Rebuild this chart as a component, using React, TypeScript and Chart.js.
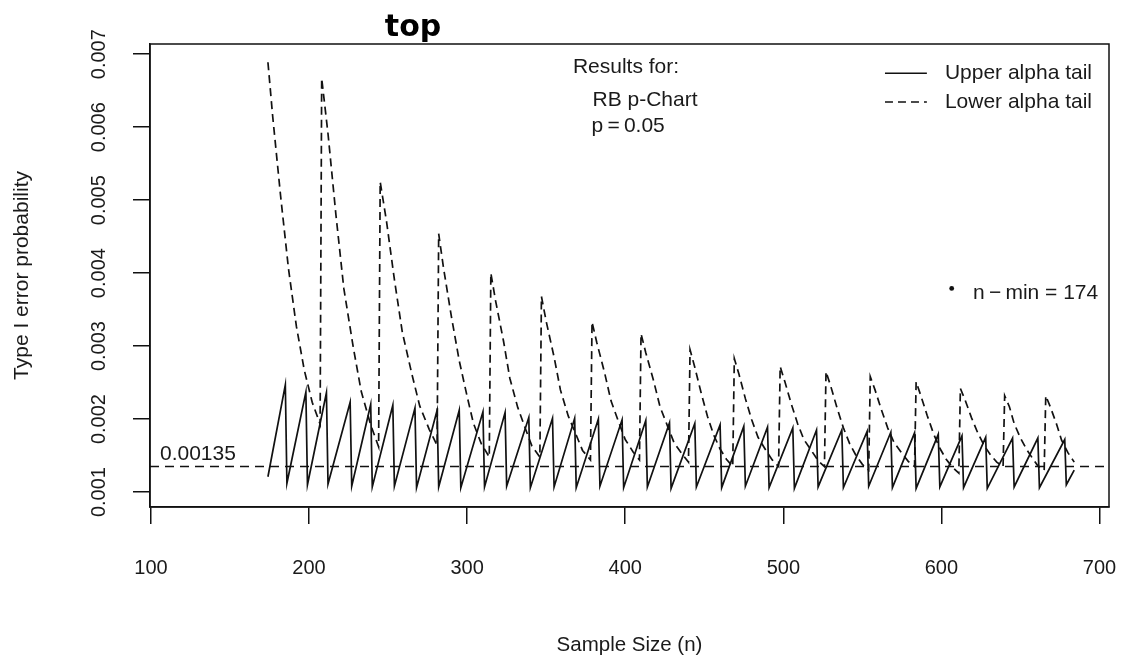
import React, { useEffect, useRef } from "react";
import { Chart, registerables } from "chart.js";

Chart.register(...registerables);

const INK = "#111111";
const TEXT = "#1a1a1a";
const FONT = "'Liberation Sans', Arial, Helvetica, sans-serif";

// Axis limits and ticks
const xLimits = [99.4, 706];
const yLimits = [0.000795, 0.00714];
const xTicks = [100, 200, 300, 400, 500, 600, 700];
const yTicks = [0.001, 0.002, 0.003, 0.004, 0.005, 0.006, 0.007];

const seriesNames = ["Upper alpha tail", "Lower alpha tail"];
const refLevel = 0.00135;
const nMin = 174;
const chartType = "RB p-Chart";
const pValue = "0.05";

// Upper alpha tail (solid): sample size n and probability
const upperN = [
  174, 185, 186, 198, 199, 211, 212, 226, 227, 239, 240, 253, 254, 267, 268, 281, 282,
  295, 296, 310, 311, 324, 325, 339, 340, 354, 355, 368, 369, 383, 384, 398, 399, 413,
  414, 428, 429, 444, 445, 460, 461, 475, 476, 490, 491, 506, 507, 521, 522, 537, 538,
  553, 554, 568, 569, 583, 584, 598, 599, 613, 614, 628, 629, 645, 646, 661, 662, 678,
  679, 684,
];
const upperP = [
  0.00121, 0.00247, 0.00112, 0.00237, 0.0011, 0.00236, 0.00111, 0.00223, 0.00108,
  0.0022, 0.00107, 0.00219, 0.00108, 0.00215, 0.00106, 0.00212, 0.00107, 0.00212,
  0.00106, 0.0021, 0.00107, 0.00209, 0.00108, 0.00202, 0.00106, 0.00201, 0.00107,
  0.00201, 0.00106, 0.002, 0.00108, 0.00199, 0.00106, 0.00198, 0.00107, 0.00195,
  0.00105, 0.00194, 0.00107, 0.00192, 0.00106, 0.0019, 0.00108, 0.00189, 0.00106,
  0.00188, 0.00105, 0.00185, 0.00107, 0.00185, 0.00106, 0.00183, 0.00108, 0.00182,
  0.00106, 0.00181, 0.00105, 0.00179, 0.00107, 0.00177, 0.00106, 0.00175, 0.00105,
  0.00174, 0.00107, 0.00174, 0.00106, 0.00172, 0.0011, 0.0013,
];

// Lower alpha tail (dashed): sample size n and probability
const lowerN = [
  174, 177, 182, 187, 192, 197, 202, 207,
  208, 212, 217, 222, 228, 233, 239, 244,
  245, 249, 254, 259, 265, 270, 276, 281,
  282, 285, 290, 295, 300, 304, 309, 314,
  315, 318, 323, 327, 332, 337, 341, 346,
  347, 350, 355, 359, 364, 369, 373, 378,
  379, 382, 387, 391, 396, 400, 405, 409,
  410, 413, 418, 422, 427, 431, 436, 440,
  441, 444, 448, 452, 456, 460, 464, 468,
  469, 472, 476, 480, 484, 489, 493, 497,
  498, 501, 505, 509, 513, 518, 522, 526,
  527, 530, 534, 538, 542, 546, 550, 554,
  555, 558, 562, 566, 570, 575, 579, 583,
  584, 587, 591, 595, 599, 603, 607, 611,
  612, 615, 619, 623, 627, 631, 635, 639,
  640, 643, 646, 650, 654, 658, 661, 665,
  666, 669, 673, 676, 680, 684,
];
const lowerP = [
  0.00689, 0.00615, 0.00506, 0.00406, 0.00327, 0.00267, 0.00223, 0.00193,
  0.00667, 0.00591, 0.0048, 0.00379, 0.00298, 0.00238, 0.00192, 0.00162,
  0.00525, 0.00471, 0.00391, 0.00319, 0.00262, 0.00218, 0.00186, 0.00164,
  0.00454, 0.00408, 0.00341, 0.0028, 0.00231, 0.00194, 0.00166, 0.00148,
  0.004, 0.00362, 0.00307, 0.00256, 0.00216, 0.00186, 0.00163, 0.00148,
  0.00368, 0.00334, 0.00285, 0.0024, 0.00204, 0.00178, 0.00157, 0.00144,
  0.00333, 0.00305, 0.00263, 0.00225, 0.00195, 0.00172, 0.00155, 0.00144,
  0.00317, 0.00291, 0.00252, 0.00217, 0.00189, 0.00167, 0.00152, 0.00141,
  0.00295, 0.00271, 0.00236, 0.00204, 0.00178, 0.00159, 0.00145, 0.00135,
  0.00283, 0.00261, 0.00228, 0.00199, 0.00175, 0.00157, 0.00144, 0.00135,
  0.00272, 0.00251, 0.00221, 0.00194, 0.00172, 0.00156, 0.00143, 0.00135,
  0.00265, 0.00245, 0.00215, 0.00188, 0.00166, 0.0015, 0.00138, 0.0013,
  0.00258, 0.0024, 0.00213, 0.00188, 0.00168, 0.00153, 0.00142, 0.00135,
  0.00251, 0.00232, 0.00205, 0.0018, 0.0016, 0.00145, 0.00134, 0.00126,
  0.00242, 0.00226, 0.00202, 0.00181, 0.00164, 0.00151, 0.00141, 0.00135,
  0.00232, 0.00217, 0.00194, 0.00174, 0.00158, 0.00145, 0.00136, 0.0013,
  0.00232, 0.00216, 0.00192, 0.00171, 0.00154, 0.00141,
];

const toPoints = (xs: number[], ys: number[]) => {
  const n = Math.min(xs.length, ys.length);
  const out: { x: number; y: number }[] = [];
  for (let i = 0; i < n; i++) out.push({ x: xs[i], y: ys[i] });
  return out;
};

const DASH = [8, 5];
const LW = 1.7;

const annotationPlugin = {
  id: "rAnnotations",
  afterDraw(chart: any) {
    const { ctx, chartArea: a, scales } = chart;
    const xs = scales.x;
    const ys = scales.y;
    const px = (v: number) => xs.getPixelForValue(v);
    const py = (v: number) => ys.getPixelForValue(v);
    ctx.save();
    // full box around plot region
    ctx.strokeStyle = INK;
    ctx.lineWidth = 1.5;
    ctx.setLineDash([]);
    ctx.strokeRect(a.left, a.top, a.right - a.left, a.bottom - a.top);

    ctx.fillStyle = TEXT;
    ctx.textAlign = "left";

    // reference level label
    ctx.font = `21px ${FONT}`;
    ctx.textBaseline = "alphabetic";
    ctx.fillText(String(refLevel), px(105.7), py(refLevel) - 7);

    // results block
    ctx.textBaseline = "middle";
    ctx.fillText("Results for:", px(366.9), py(0.006825));
    ctx.fillText(chartType, px(379.3), py(0.006366));
    ctx.fillText(`p\u2009=\u2009${pValue}`, px(378.7), py(0.006007));

    // legend
    const legendY = [py(0.006739), py(0.006345)];
    const dashes = [[], DASH];
    for (let i = 0; i < 2; i++) {
      ctx.beginPath();
      ctx.setLineDash(dashes[i]);
      ctx.lineWidth = LW;
      ctx.strokeStyle = INK;
      ctx.moveTo(px(564.3), legendY[i]);
      ctx.lineTo(px(590.8), legendY[i]);
      ctx.stroke();
      ctx.setLineDash([]);
      ctx.fillText(seriesNames[i], px(602.2), legendY[i]);
    }

    // n-min marker
    ctx.beginPath();
    ctx.arc(px(606.5), py(0.00379), 2.4, 0, Math.PI * 2);
    ctx.fillStyle = INK;
    ctx.fill();
    ctx.fillStyle = TEXT;
    ctx.fillText(`n\u2009\u2212\u2009min = ${nMin}`, px(620), py(0.003724));

    // title
    ctx.font = `bold 30px 'DejaVu Sans', Verdana, sans-serif`;
    ctx.textAlign = "center";
    ctx.textBaseline = "alphabetic";
    ctx.fillStyle = "#000";
    ctx.fillText("top", 413, 36);
    ctx.restore();
  },
};

export default function App() {
  const ref = useRef<HTMLCanvasElement | null>(null);
  useEffect(() => {
    if (!ref.current) return;
    const chart = new Chart(ref.current, {
      type: "line",
      data: {
        datasets: [
          {
            label: seriesNames[0],
            data: toPoints(upperN, upperP),
            borderColor: INK,
            borderWidth: LW,
            pointRadius: 0,
            tension: 0,
            fill: false,
          },
          {
            label: seriesNames[1],
            data: toPoints(lowerN, lowerP),
            borderColor: INK,
            borderWidth: LW,
            borderDash: DASH,
            pointRadius: 0,
            tension: 0,
            fill: false,
          },
          {
            label: "reference",
            data: toPoints(xLimits, [refLevel, refLevel]),
            borderColor: INK,
            borderWidth: LW,
            borderDash: [9, 6],
            pointRadius: 0,
            fill: false,
          },
        ],
      },
      options: {
        responsive: false,
        animation: false,
        devicePixelRatio: 1,
        events: [],
        layout: { padding: { left: 0, top: 44, right: 12, bottom: 0 } },
        plugins: {
          legend: { display: false },
          tooltip: { enabled: false },
          title: { display: false },
        },
        scales: {
          x: {
            type: "linear",
            min: xLimits[0],
            max: xLimits[1],
            afterBuildTicks: (s: any) => {
              s.ticks = xTicks.map((v) => ({ value: v }));
            },
            afterFit: (s: any) => {
              s.height = 149;
              s.paddingLeft = 0;
              s.paddingRight = 0;
            },
            ticks: {
              autoSkip: false,
              minRotation: 0,
              maxRotation: 0,
              padding: 32,
              color: TEXT,
              font: { family: FONT, size: 20 },
              callback: (v: any) => String(v),
            },
            grid: {
              drawOnChartArea: false,
              drawTicks: true,
              tickLength: 17,
              color: INK,
              lineWidth: 1.5,
            },
            border: { display: true, color: INK, width: 1.5 },
            title: {
              display: true,
              text: "Sample Size (n)",
              color: TEXT,
              font: { family: FONT, size: 20.5, lineHeight: 1 },
              padding: { top: 0, bottom: 0 },
            },
          },
          y: {
            type: "linear",
            min: yLimits[0],
            max: yLimits[1],
            afterBuildTicks: (s: any) => {
              s.ticks = yTicks.map((v) => ({ value: v }));
            },
            afterFit: (s: any) => {
              s.width = 150;
              s.paddingTop = 0;
              s.paddingBottom = 0;
            },
            ticks: {
              autoSkip: false,
              minRotation: 90,
              maxRotation: 90,
              crossAlign: "center",
              padding: 8,
              color: TEXT,
              font: { family: FONT, size: 20 },
              callback: (v: any) => Number(v).toFixed(3),
            },
            grid: {
              drawOnChartArea: false,
              drawTicks: true,
              tickLength: 17,
              color: INK,
              lineWidth: 1.5,
            },
            border: { display: true, color: INK, width: 1.5 },
            title: {
              display: true,
              text: "Type I error probability",
              color: TEXT,
              font: { family: FONT, size: 21, lineHeight: 1 },
              padding: { top: 11.5, bottom: 0 },
            },
          },
        },
      } as any,
      plugins: [annotationPlugin],
    });
    return () => chart.destroy();
  }, []);

  return (
    <div style={{ position: "fixed", left: 0, top: 0, width: 1121, height: 656, background: "#fff" }}>
      <canvas ref={ref} width={1121} height={656} style={{ display: "block" }} />
    </div>
  );
}
